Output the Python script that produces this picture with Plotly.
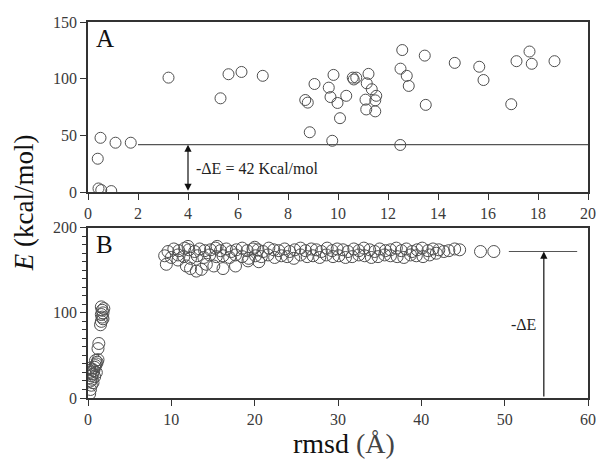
import plotly.graph_objects as go

# ---------------- Panel A data ----------------
a_rmsd = [0.39, 0.50, 0.42, 0.53, 0.93, 1.10, 1.71, 3.22, 5.30, 5.62, 6.14, 6.99,
          8.69, 8.79, 8.87, 9.06, 9.63, 9.70, 9.82, 9.77, 9.98, 10.08, 10.33, 10.59,
          10.73, 10.63, 11.22, 11.15, 11.35, 11.53, 11.10, 11.13, 11.49, 11.49,
          12.57, 12.50, 12.75, 12.83, 12.49, 13.47, 13.51, 14.67, 15.65, 15.82,
          16.93, 17.14, 17.66, 17.75, 18.66]
a_energy = [29.6, 48.0, 3.4, 2.0, 1.1, 43.7, 43.7, 101.0, 82.8, 104.0, 106.0, 102.6,
            81.3, 79.0, 52.9, 95.4, 92.2, 83.9, 103.4, 45.4, 78.7, 65.3, 85.0, 101.0,
            101.0, 99.4, 104.3, 96.0, 90.8, 85.0, 81.6, 73.0, 81.0, 71.3,
            125.3, 108.9, 102.6, 93.7, 41.7, 120.4, 77.0, 114.0, 110.6, 98.9,
            77.6, 115.5, 124.0, 113.2, 115.5]

# ---------------- Panel B data ----------------
b_low_rmsd = [0.2, 0.3, 0.4, 0.3, 0.5, 0.4, 0.6, 0.3, 0.7, 0.5, 0.8, 0.9, 1.0, 1.1,
              0.9, 1.2, 0.6, 0.8, 1.0, 0.2, 1.2, 1.3, 1.5, 1.6, 1.7, 1.6, 1.8, 1.7,
              1.9, 1.6, 1.8]
b_low_energy = [5, 10, 15, 20, 22, 26, 28, 30, 32, 34, 36, 38, 40, 42,
                44, 45, 18, 25, 30, 35, 58, 64, 86, 90, 95, 98, 100, 103,
                105, 107, 93]

b_up_rmsd = [9.6, 10.3, 10.9, 11.6, 12.1, 12.8, 13.4, 14.0, 14.7, 15.3, 15.9, 16.6,
             17.2, 17.8, 18.5, 19.1, 19.8, 20.4, 21.0, 21.7, 22.3, 22.9, 23.6, 24.2,
             24.8, 25.5, 26.1, 26.8, 27.4, 28.0, 28.7, 29.3, 29.9, 30.6, 31.2, 31.9,
             32.5, 33.1, 33.8, 34.4, 35.0, 35.7, 36.3, 37.0, 37.6, 38.2, 38.9, 39.5,
             40.1, 40.8, 41.4, 42.1, 42.7, 43.3, 44.0, 44.6]
b_up_energy = [172, 175, 173, 176, 174, 172, 175, 173, 174, 176, 173, 175,
               172, 174, 176, 173, 175, 174, 172, 176, 174, 173, 175, 172,
               174, 176, 173, 175, 174, 172, 176, 173, 175, 174, 172, 175,
               173, 176, 174, 172, 175, 173, 174, 176, 173, 175, 172, 174,
               176, 173, 175, 174, 172, 173, 175, 174]

b_mid_rmsd = [9.2, 10.0, 10.8, 11.5, 12.3, 13.1, 13.9, 14.6, 15.4, 16.2, 17.0, 17.7,
              18.5, 19.3, 20.1, 20.8, 21.6, 22.4, 23.2, 23.9, 24.7, 25.5, 26.3, 27.0,
              27.8, 28.6, 29.4, 30.1, 30.9, 31.7, 32.5, 33.2, 34.0, 34.8, 35.6, 36.3,
              37.1, 37.9, 38.7, 39.4, 40.2, 41.0, 41.8]
b_mid_energy = [167, 165, 168, 166, 164, 167, 165, 168, 166, 167, 165, 168,
                166, 164, 167, 166, 168, 165, 167, 166, 164, 168, 166, 167,
                165, 168, 166, 167, 165, 166, 168, 167, 165, 166, 168, 167,
                166, 165, 168, 167, 166, 168, 170]

b_out_rmsd = [9.4, 11.8, 12.3, 13.0, 13.6, 14.2, 15.1, 16.2, 17.7, 19.2, 10.8, 20.5,
              12.0, 15.5, 20.0, 47.1, 48.7]
b_out_energy = [157, 155, 152, 149, 151, 157, 155, 152, 155, 161, 162, 160,
                178, 178, 177, 172, 172]

b_rmsd = b_low_rmsd + b_up_rmsd + b_mid_rmsd + b_out_rmsd
b_energy = b_low_energy + b_up_energy + b_mid_energy + b_out_energy
assert len(b_rmsd) == len(b_energy) and len(a_rmsd) == len(a_energy)

a_xticks = list(range(0, 21, 2))
a_yticks = [0, 50, 100, 150]
b_xticks = list(range(0, 61, 10))
b_yticks = [0, 100, 200]

FONT = "Liberation Serif, Times New Roman, DejaVu Serif, serif"
INK = "#333333"
TICKTXT = "#3a3a3a"
MK = "#4f4f4f"

fig = go.Figure()
fig.add_trace(go.Scatter(x=a_rmsd, y=a_energy, mode="markers", xaxis="x", yaxis="y",
                         marker=dict(symbol="circle-open", size=11, color=MK, line=dict(width=1)),
                         showlegend=False))
fig.add_trace(go.Scatter(x=b_rmsd, y=b_energy, mode="markers", xaxis="x2", yaxis="y2",
                         marker=dict(symbol="circle-open", size=12, color=MK, line=dict(width=1)),
                         showlegend=False))

axis_common = dict(showgrid=False, zeroline=False, showline=True, linecolor=INK, linewidth=1.5,
                   mirror=True, ticks="outside", tickcolor=INK, ticklen=6, tickwidth=1.2,
                   tickfont=dict(family=FONT, size=16, color=TICKTXT))

# page body has an 8px margin, so the figure is shrunk to fit the 604x466 window
fig.update_layout(
    width=596, height=458,
    margin=dict(l=80, r=16, t=6, b=68),
    paper_bgcolor="white", plot_bgcolor="white",
    font=dict(family=FONT),
    xaxis=dict(domain=[0, 1], anchor="y", range=[0, 20], tickvals=a_xticks, **axis_common),
    yaxis=dict(domain=[0.547, 1.0], anchor="x", range=[0, 150], tickvals=a_yticks, **axis_common),
    xaxis2=dict(domain=[0, 1], anchor="y2", range=[0, 60], tickvals=b_xticks, **axis_common),
    yaxis2=dict(domain=[0, 0.453], anchor="x2", range=[0, 200], tickvals=b_yticks,
                minor=dict(dtick=10, ticks="outside", ticklen=4, tickcolor=INK), **axis_common),
)

# Panel A annotation
fig.add_shape(type="line", xref="x", yref="y", x0=2, x1=20, y0=42, y1=42,
              line=dict(color="#555555", width=1.2))
fig.add_annotation(xref="x", yref="y", axref="x", ayref="y", x=4, y=42, ax=4, ay=0,
                   text="", showarrow=True, arrowhead=2, startarrowhead=2,
                   arrowside="end+start", arrowsize=1.2, arrowwidth=1.2, arrowcolor="#111111")
fig.add_annotation(xref="x", yref="y", x=4.25, y=21, text="-ΔE = 42 Kcal/mol", showarrow=False,
                   xanchor="left", yanchor="middle", font=dict(family=FONT, size=16, color="#222222"))
fig.add_annotation(xref="x", yref="y", x=0.25, y=149, text="A", showarrow=False,
                   xanchor="left", yanchor="top", font=dict(family=FONT, size=25, color="#111111"))

# Panel B annotation
fig.add_shape(type="line", xref="x2", yref="y2", x0=50.5, x1=58.7, y0=172, y1=172,
              line=dict(color="#555555", width=1.2))
fig.add_annotation(xref="x2", yref="y2", axref="x2", ayref="y2", x=54.7, y=172, ax=54.7, ay=0,
                   text="", showarrow=True, arrowhead=2, arrowsize=1.2, arrowwidth=1.2,
                   arrowcolor="#111111")
fig.add_annotation(xref="x2", yref="y2", x=52.2, y=86, text="-ΔE", showarrow=False,
                   xanchor="center", yanchor="middle", font=dict(family=FONT, size=16, color="#222222"))
fig.add_annotation(xref="x2", yref="y2", x=0.75, y=199, text="B", showarrow=False,
                   xanchor="left", yanchor="top", font=dict(family=FONT, size=25, color="#111111"))

# Axis titles
fig.add_annotation(xref="paper", yref="paper", x=-0.128, y=0.518, text="<i>E</i> (kcal/mol)",
                   showarrow=False, textangle=-90, xanchor="center", yanchor="middle",
                   font=dict(family=FONT, size=27, color="#111111"))
fig.add_annotation(xref="paper", yref="paper", x=0.512, y=-0.12,
                   text="rmsd <span style='color:#444444'>(Å)</span>",
                   showarrow=False, xanchor="center", yanchor="middle",
                   font=dict(family=FONT, size=28, color="#111111"))

fig.write_html("out.html")
